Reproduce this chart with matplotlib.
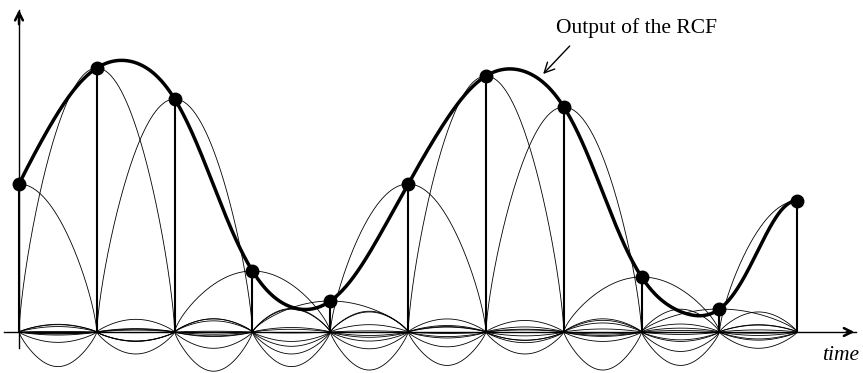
import numpy as np
import matplotlib.pyplot as plt

# sample amplitudes fed into the raised cosine filter (one per symbol period)
samples = [1.48, 2.64, 2.33, 0.61, 0.31, 1.48, 2.56, 2.25, 0.55, 0.23, 1.31]
sample_times = list(range(len(samples)))
rolloff = 0.7

label_rcf = "Output of the RCF"
label_time = "time"


def raised_cosine(t, beta):
    t = np.asarray(t, dtype=float)
    denom = 1 - (2 * beta * t) ** 2
    ok = np.abs(denom) > 1e-9
    out = np.empty_like(t)
    out[ok] = np.sinc(t[ok]) * np.cos(np.pi * beta * t[ok]) / denom[ok]
    out[~ok] = np.pi / 4 * np.sinc(1 / (2 * beta))
    return out


def sketch_pulse(t):
    # schematic version of a single pulse: round main lobe, decaying side arches
    a = np.abs(np.asarray(t, dtype=float))
    n = np.floor(a)
    frac = a - n
    main = np.cos(np.pi * np.minimum(a, 1) / 2) ** 0.72
    side = (-1) ** n * 0.7 / (np.pi * (n + 0.5)) * np.sin(np.pi * frac) ** 0.8
    return np.where(a < 1, main, side)


t = np.linspace(sample_times[0], sample_times[-1], 3001)
pulses = [a * sketch_pulse(t - k) for k, a in zip(sample_times, samples)]
output = np.sum([a * raised_cosine(t - k, rolloff)
                 for k, a in zip(sample_times, samples)], axis=0)

fig = plt.figure(figsize=(8.63, 3.73), dpi=100)
ax = fig.add_axes([0, 0, 1, 1])
px = 77.83  # pixels per symbol period
ax.set_xlim(-19 / px, (863 - 19) / px)
ax.set_ylim(-0.41, 3.32)
ax.axis("off")

# axes: thin shaft, heavier arrow head
ax.plot([-0.19, 10.75], [0, 0], color="black", lw=1.0)
ax.plot([0, 0], [-0.16, 3.22], color="black", lw=1.0)
head_kw = dict(arrowstyle="->", lw=1.8, color="black", mutation_scale=14)
ax.annotate("", xy=(10.77, 0), xytext=(10.6, 0), arrowprops=head_kw)
ax.annotate("", xy=(0, 3.25), xytext=(0, 3.05), arrowprops=head_kw)

# individual filter responses
for p in pulses:
    ax.plot(t, p, color="black", lw=0.6)

# sample stems and dots
ax.vlines(sample_times, 0, samples, color="black", lw=1.5)
ax.plot(t, output, color="black", lw=2.5, solid_capstyle="round")
ax.plot(sample_times, samples, "o", color="black", ms=9)

serif = ["Liberation Serif", "DejaVu Serif"]
ax.text(7.93, 3.04, label_rcf, family=serif, fontsize=15.5,
        ha="center", va="center")
ax.annotate("", xy=(6.71, 2.56), xytext=(7.1, 2.88),
            arrowprops=dict(arrowstyle="->", lw=1.0, color="black",
                            mutation_scale=18))
ax.text(10.56, -0.23, label_time, family=serif, style="italic",
        fontsize=15.5, ha="center", va="center")

fig.savefig("out.png", dpi=100)
